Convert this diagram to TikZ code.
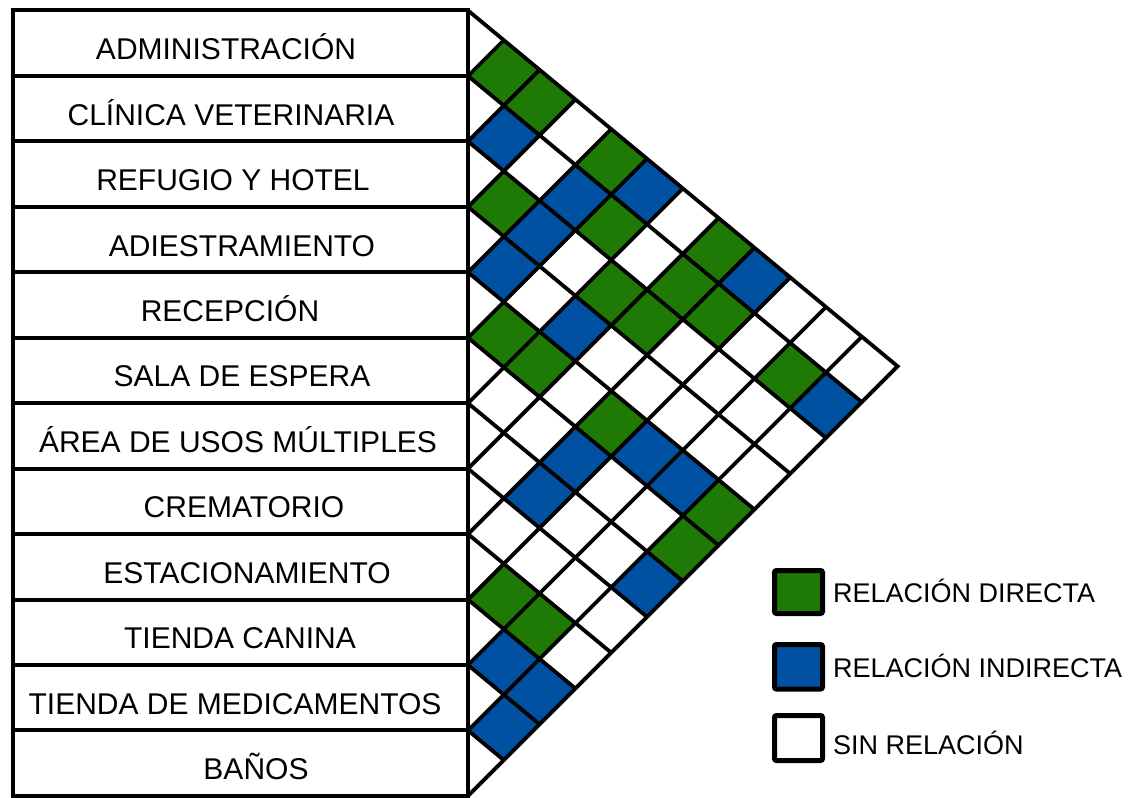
\documentclass[tikz,border=0pt]{standalone}
\usepackage{fontspec}
\setmainfont{Liberation Sans}
\definecolor{rgreen}{RGB}{30,122,4}
\definecolor{rblue}{RGB}{0,81,162}
% lattice vertex V(k,m) in image pixel coordinates
\newcommand\VV[2]{({468+35.8*((#2)-(#1))},{10.5+65.45*(#1)+29.65*((#2)-(#1))})}
\begin{document}
\begin{tikzpicture}[x=1pt,y=-1pt,
  labelbox/.style={draw=black,line width=4pt},
  labeltext/.style={anchor=base,inner sep=0pt,font=\fontsize{30}{36}\selectfont},
  gridline/.style={draw=black,line width=3.8pt,line cap=butt},
  legbox/.style={draw=black,line width=5pt,rounded corners=2pt},
  legtext/.style={anchor=base west,inner sep=0pt,font=\fontsize{27}{32}\selectfont}]
\useasboundingbox (0,0) rectangle (1131,797);
\fill[white] (0,0) rectangle (1131,797);
% coloured cells
\foreach \i/\j/\c in {1/2/rgreen,1/3/rgreen,1/5/rgreen,1/8/rgreen,2/6/rgreen,2/8/rgreen,
  2/9/rgreen,2/11/rgreen,3/4/rgreen,3/7/rgreen,3/8/rgreen,5/6/rgreen,5/7/rgreen,5/9/rgreen,
  5/12/rgreen,6/12/rgreen,9/10/rgreen,9/11/rgreen,
  1/6/rblue,1/9/rblue,2/3/rblue,2/5/rblue,2/12/rblue,3/5/rblue,4/5/rblue,4/7/rblue,
  5/10/rblue,5/11/rblue,6/9/rblue,7/9/rblue,7/12/rblue,10/11/rblue,10/12/rblue,11/12/rblue}
  \fill[\c] \VV{\i-1}{\j-1} -- \VV{\i-1}{\j} -- \VV{\i}{\j} -- \VV{\i}{\j-1} -- cycle;
% lattice lines
\foreach \k in {1,...,11} \draw[gridline] \VV{\k}{\k} -- \VV{\k}{12};
\foreach \m in {1,...,11} \draw[gridline] \VV{\m}{\m} -- \VV{0}{\m};
\draw[gridline,line join=miter] \VV{0}{0} -- \VV{0}{12} -- \VV{12}{12};
% label boxes
\foreach \t/\x [count=\i] in {ADMINISTRACIÓN/226,CLÍNICA VETERINARIA/231,REFUGIO Y HOTEL/233,
  ADIESTRAMIENTO/242,RECEPCIÓN/230,SALA DE ESPERA/242,ÁREA DE USOS MÚLTIPLES/238,
  CREMATORIO/244,ESTACIONAMIENTO/247,TIENDA CANINA/240,TIENDA DE MEDICAMENTOS/235,BAÑOS/256}{
  \draw[labelbox] (12.5,{10.5+(\i-1)*65.45}) rectangle (468,{10.5+\i*65.45});
  \node[labeltext] (lab\i) at (\x,{10.5+(\i-0.5)*65.45+16.5}) {\t};
}
% legend
\draw[legbox,fill=rgreen] (774.5,570.5) rectangle (822.5,613.5);
\draw[legbox,fill=rblue] (774.5,644.5) rectangle (822.5,689);
\draw[legbox,fill=white] (774.5,715.5) rectangle (822.5,760.5);
\node[legtext] (leg1) at (833,602) {RELACIÓN DIRECTA};
\node[legtext] (leg2) at (833,677) {RELACIÓN INDIRECTA};
\node[legtext] (leg3) at (833,754) {SIN RELACIÓN};
\end{tikzpicture}
\end{document}
